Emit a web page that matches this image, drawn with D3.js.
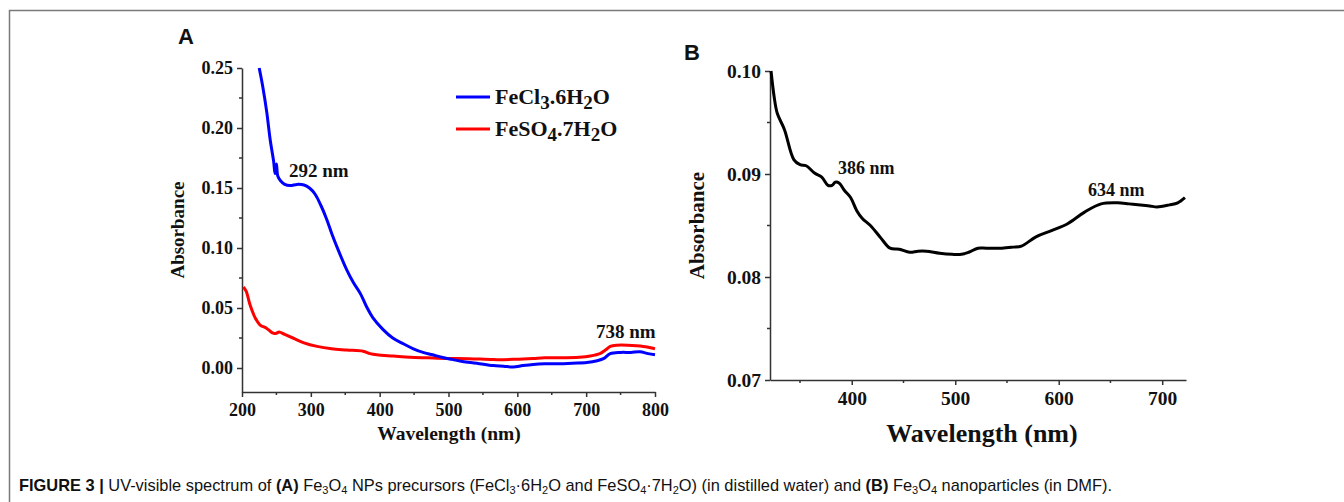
<!DOCTYPE html>
<html>
<head>
<meta charset="utf-8">
<script src="https://cdn.jsdelivr.net/npm/d3@7"></script>
<style>
  body { margin: 0; background: #fff; }
  svg text { font-family: "Liberation Serif", "Times New Roman", serif; font-weight: bold; fill: #111; }
</style>
</head>
<body>
<svg id="fig" width="1344" height="502"></svg>
<script>
// panel A: FeCl3.6H2O (blue)
const feclWl  = [225, 230, 236, 241, 246, 248, 250, 252, 256, 262, 270, 280, 290, 298, 306, 315, 323, 331, 340, 352, 362, 372, 381, 390, 405, 419, 435, 449, 463, 477, 490, 502, 520, 541, 565, 580, 594, 608, 623, 640, 662, 680, 701, 716, 726, 735, 750, 765, 778, 790, 800];
const feclAbs = [0.25, 0.235, 0.213, 0.19, 0.172, 0.162, 0.17, 0.16, 0.156, 0.153, 0.152, 0.153, 0.1525, 0.150, 0.145, 0.135, 0.124, 0.111, 0.098, 0.082, 0.071, 0.062, 0.051, 0.042, 0.032, 0.025, 0.020, 0.016, 0.013, 0.011, 0.009, 0.0075, 0.0055, 0.004, 0.002, 0.0015, 0.0008, 0.002, 0.003, 0.0035, 0.0035, 0.004, 0.0045, 0.006, 0.008, 0.012, 0.013, 0.013, 0.0135, 0.012, 0.011];

// panel A: FeSO4.7H2O (red)
const feso4Wl  = [202, 206, 212, 219, 226, 236, 245, 250, 254, 262, 274, 290, 309, 330, 352, 376, 386, 396, 420, 444, 470, 497, 530, 565, 594, 623, 640, 662, 690, 706, 720, 728, 735, 745, 760, 783, 800];
const feso4Abs = [0.0675, 0.064, 0.052, 0.042, 0.036, 0.033, 0.029, 0.029, 0.030, 0.028, 0.025, 0.021, 0.018, 0.016, 0.015, 0.014, 0.012, 0.011, 0.010, 0.009, 0.0085, 0.008, 0.0078, 0.007, 0.0072, 0.008, 0.0085, 0.0085, 0.009, 0.010, 0.012, 0.015, 0.018, 0.019, 0.019, 0.018, 0.016];

// panel B: Fe3O4 nanoparticles in DMF
const npWl  = [322, 325, 328, 335, 344, 350, 356, 364, 371, 377, 381, 384, 388, 393, 399, 405, 410, 418, 428, 437, 446, 456, 464, 472, 485, 497, 506, 513, 522, 530, 545, 556, 564, 578, 593, 609, 625, 641, 657, 668, 679, 688, 695, 707, 715, 722];
const npAbs = [0.100, 0.0975, 0.0959, 0.0943, 0.0914, 0.0909, 0.0908, 0.0901, 0.0897, 0.0889, 0.0889, 0.0892, 0.0891, 0.0884, 0.0877, 0.0864, 0.0857, 0.0850, 0.0838, 0.0828, 0.0827, 0.0824, 0.0825, 0.0825, 0.0823, 0.0822, 0.0822, 0.0824, 0.0828, 0.0828, 0.0828, 0.0829, 0.0830, 0.0839, 0.0845, 0.0852, 0.0863, 0.0871, 0.0872, 0.0871, 0.0870, 0.0869, 0.0868, 0.0870, 0.0872, 0.0877];

const aTicksX = [200, 300, 400, 500, 600, 700, 800];
const aTicksY = [0, 0.05, 0.10, 0.15, 0.20, 0.25];
const aMinorX = [250, 350, 450, 550, 650, 750];
const aMinorY = [0.025, 0.075, 0.125, 0.175, 0.225];
const bTicksX = [400, 500, 600, 700];
const bTicksY = [0.07, 0.08, 0.09, 0.10];
const bMinorX = [350, 450, 550, 650];
const bMinorY = [0.075, 0.085, 0.095];

const svg = d3.select("#fig");

// frame lines
svg.append("path").attr("d", "M9.5,502 V10.5 H1344").attr("fill", "none").attr("stroke", "#7a7a7a").attr("stroke-width", 1.5);

function drawAxes(x, y, ticksX, ticksY, minorX, minorY, fontSize) {
  const g = svg.append("g");
  const x0 = x.range()[0];
  const y0 = y.range()[0];
  const ax = g.append("g").attr("transform", `translate(0,${y0})`)
    .call(d3.axisBottom(x).tickValues(ticksX).tickSize(5).tickSizeOuter(0).tickPadding(6).tickFormat(d3.format("d")));
  ax.append("g").selectAll("line").data(minorX).join("line")
    .attr("x1", d => x(d)).attr("x2", d => x(d)).attr("y1", 0).attr("y2", 3);
  const ay = g.append("g").attr("transform", `translate(${x0},0)`)
    .call(d3.axisLeft(y).tickValues(ticksY).tickSize(5).tickSizeOuter(0).tickPadding(4).tickFormat(d3.format(".2f")));
  ay.append("g").selectAll("line").data(minorY).join("line")
    .attr("y1", d => y(d)).attr("y2", d => y(d)).attr("x1", 0).attr("x2", -3);
  g.selectAll(".domain, line").attr("stroke", "#333").attr("stroke-width", 1.5);
  g.selectAll("g").attr("font-size", null).attr("font-family", null);
  g.selectAll(".tick text").attr("fill", "#111")
    .style("font-size", fontSize + "px")
    .style("font-family", '"Liberation Serif", serif').style("font-weight", "bold");
  return g;
}

// ---------- panel A ----------
const xA = d3.scaleLinear().domain([200, 800]).range([242, 655]);
const yA = d3.scaleLinear().domain([-0.02, 0.25]).range([392, 68]);
drawAxes(xA, yA, aTicksX, aTicksY, aMinorX, aMinorY, 18);

const lineA = d3.line().x(d => xA(d[0])).y(d => yA(d[1])).curve(d3.curveCatmullRom);
svg.append("path").datum(feso4Wl.map((w, i) => [w, feso4Abs[i]]))
  .attr("d", lineA).attr("fill", "none").attr("stroke", "#ff0000").attr("stroke-width", 3);
svg.append("path").datum(feclWl.map((w, i) => [w, feclAbs[i]]))
  .attr("d", lineA).attr("fill", "none").attr("stroke", "#0000ff").attr("stroke-width", 3);

svg.append("text").attr("x", 178).attr("y", 44).text("A")
  .style("font-family", '"Liberation Sans", Arial, sans-serif').style("font-size", "22px");
svg.append("text").attr("transform", `translate(184,${(68 + 392) / 2}) rotate(-90)`)
  .attr("text-anchor", "middle").style("font-size", "19px").text("Absorbance");
svg.append("text").attr("x", 449).attr("y", 440).attr("text-anchor", "middle")
  .style("font-size", "19.5px").text("Wavelength (nm)");
svg.append("text").attr("x", 289).attr("y", 177).style("font-size", "19px").text("292 nm");
svg.append("text").attr("x", 596).attr("y", 338).style("font-size", "19px").text("738 nm");

// legend
const legend = [
  {color: "#0000ff", parts: [["FeCl", 0], ["3", 1], [".6H", 0], ["2", 1], ["O", 0]]},
  {color: "#ff0000", parts: [["FeSO", 0], ["4", 1], [".7H", 0], ["2", 1], ["O", 0]]}
];
legend.forEach((d, i) => {
  const ly = 97 + i * 32;
  svg.append("line").attr("x1", 456).attr("x2", 490).attr("y1", ly).attr("y2", ly)
    .attr("stroke", d.color).attr("stroke-width", 3);
  const t = svg.append("text").attr("x", 495).attr("y", ly + 7).style("font-size", "22px");
  d.parts.forEach((p, k) => {
    t.append("tspan").text(p[0]).attr("dy", p[1] ? 5 : (k > 0 ? -5 : 0))
      .style("font-size", p[1] ? "19px" : "22px");
  });
});

// ---------- panel B ----------
const xB = d3.scaleLinear().domain([321, 723]).range([770, 1186]);
const yB = d3.scaleLinear().domain([0.07, 0.10]).range([380, 71]);
drawAxes(xB, yB, bTicksX, bTicksY, bMinorX, bMinorY, 19.5);

const lineB = d3.line().x(d => xB(d[0])).y(d => yB(d[1])).curve(d3.curveCatmullRom);
svg.append("path").datum(npWl.map((w, i) => [w, npAbs[i]]))
  .attr("d", lineB).attr("fill", "none").attr("stroke", "#000").attr("stroke-width", 3);

svg.append("text").attr("x", 684).attr("y", 60).text("B")
  .style("font-family", '"Liberation Sans", Arial, sans-serif').style("font-size", "22px");
svg.append("text").attr("transform", `translate(704,${(71 + 380) / 2}) rotate(-90)`)
  .attr("text-anchor", "middle").style("font-size", "21px").text("Absorbance");
svg.append("text").attr("x", 982).attr("y", 442).attr("text-anchor", "middle")
  .style("font-size", "26px").text("Wavelength (nm)");
svg.append("text").attr("x", 838).attr("y", 174).style("font-size", "18px").text("386 nm");
svg.append("text").attr("x", 1088).attr("y", 196).style("font-size", "18px").text("634 nm");

// ---------- caption ----------
const cap = svg.append("text").attr("x", 19).attr("y", 491).style("font-size", "16.4px");
const capParts = [
  ["FIGURE 3 | ", "b"], ["UV-visible spectrum of ", ""], ["(A)", "b"], [" Fe", ""], ["3", "s"], ["O", ""], ["4", "s"],
  [" NPs precursors (FeCl", ""], ["3", "s"], ["·6H", ""], ["2", "s"], ["O and FeSO", ""], ["4", "s"], ["·7H", ""], ["2", "s"],
  ["O) (in distilled water) and ", ""], ["(B)", "b"], [" Fe", ""], ["3", "s"], ["O", ""], ["4", "s"], [" nanoparticles (in DMF).", ""]
];
let prevSub = false;
capParts.forEach(p => {
  const sub = p[1] === "s";
  const ts = cap.append("tspan").text(p[0])
    .style("font-family", '"Liberation Sans", Arial, sans-serif')
    .style("font-weight", p[1] === "b" ? "bold" : "normal")
    .style("font-size", sub ? "11px" : "16.4px")
    .style("fill", "#111");
  if (sub && !prevSub) ts.attr("dy", 3);
  if (!sub && prevSub) ts.attr("dy", -3);
  prevSub = sub;
});
</script>
</body>
</html>
